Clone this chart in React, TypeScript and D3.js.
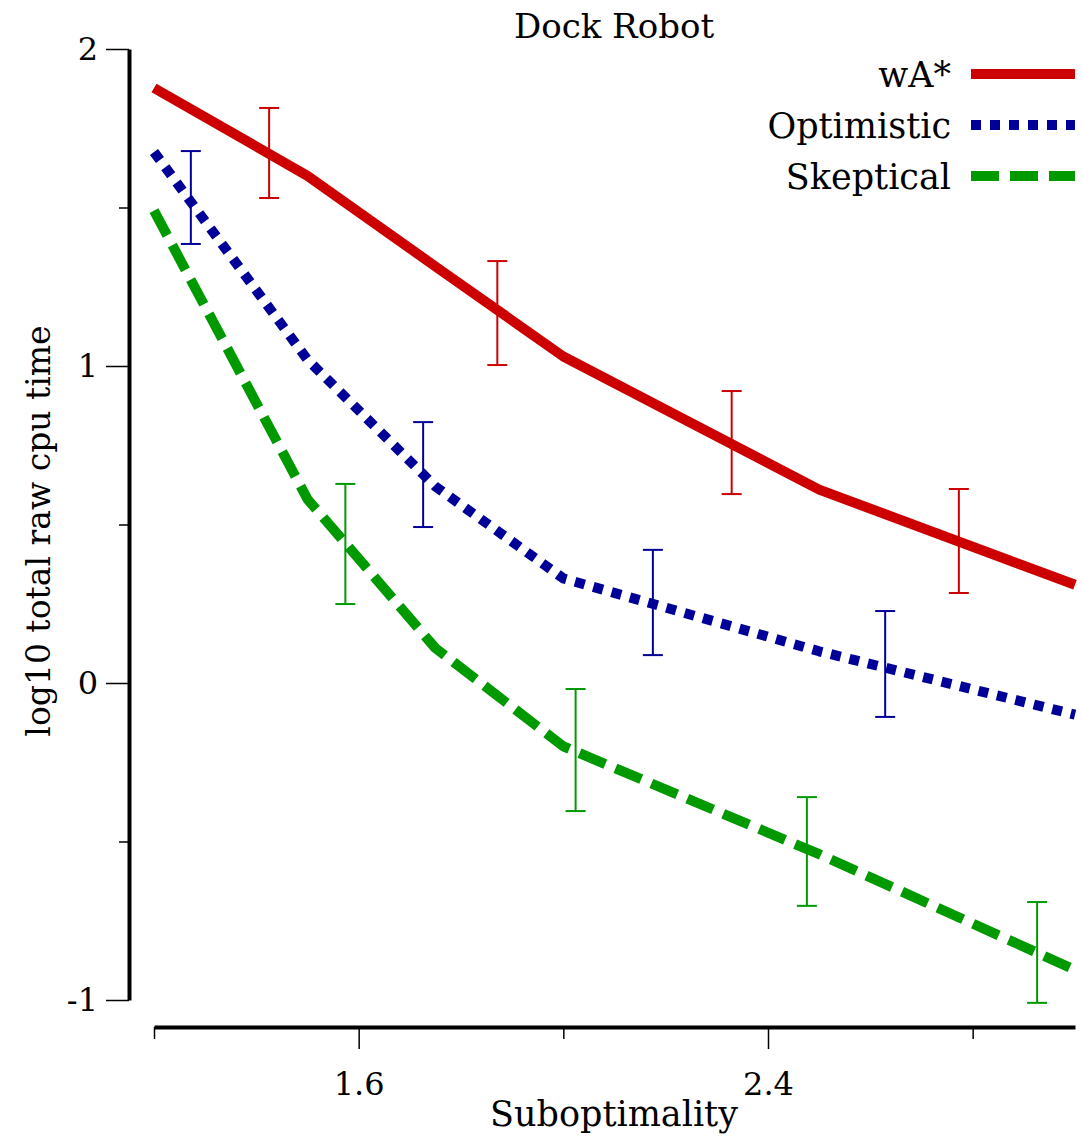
import React, { useRef, useEffect } from "react";
import * as d3 from "d3";

// series line vertices (suboptimality -> log10 cpu time)
const xValues = [1.2, 1.5, 1.75, 2.0, 2.5, 3.0];
const wAStar = [1.877, 1.6, 1.314, 1.03, 0.61, 0.31];
const optimistic = [1.675, 1.02, 0.62, 0.33, 0.1, -0.1];
const skeptical = [1.49, 0.58, 0.11, -0.2, -0.54, -0.905];

// error bars: x, low, high
const wAStarErrX = [1.425, 1.871, 2.329, 2.773];
const wAStarErrLo = [1.53, 1.003, 0.596, 0.284];
const wAStarErrHi = [1.814, 1.331, 0.921, 0.612];
const optErrX = [1.272, 1.726, 2.175, 2.629];
const optErrLo = [1.385, 0.492, 0.088, -0.107];
const optErrHi = [1.678, 0.823, 0.42, 0.227];
const skepErrX = [1.574, 2.024, 2.476, 2.926];
const skepErrLo = [0.249, -0.404, -0.703, -1.009];
const skepErrHi = [0.628, -0.019, -0.36, -0.691];

const yMajor = [-1, 0, 1, 2];
const yMinor = [-0.5, 0.5, 1.5];
const xMajor = [1.6, 2.4];
const xMinor = [1.2, 2.0, 2.8];

const series = [
  { name: "wA*", values: wAStar, errX: wAStarErrX, lo: wAStarErrLo, hi: wAStarErrHi, color: "#cc0000", dash: null },
  { name: "Optimistic", values: optimistic, errX: optErrX, lo: optErrLo, hi: optErrHi, color: "#000099", dash: "10,9" },
  { name: "Skeptical", values: skeptical, errX: skepErrX, lo: skepErrLo, hi: skepErrHi, color: "#009900", dash: "28,11" }
];

const W = 1082;
const H = 1139;
const font = "'DejaVu Serif', serif";

export default function App() {
  const svgRef = useRef<SVGSVGElement>(null);

  useEffect(() => {
    const svg = d3.select(svgRef.current);
    svg.selectAll("*").remove();

    const x = d3.scaleLinear().domain([1.2, 3.0]).range([154, 1075]);
    const y = d3.scaleLinear().domain([-1, 2]).range([1000, 49]);

    // y axis
    const yg = svg.append("g").attr("transform", "translate(129,0)");
    yg.call(d3.axisLeft(y).tickValues(yMajor).tickSize(23).tickSizeOuter(0).tickFormat(d => String(d)));
    yg.select(".domain").attr("stroke-width", 4);
    yg.selectAll(".tick line").attr("stroke-width", 1.5);
    yg.selectAll(".tick text")
      .attr("font-family", font)
      .attr("font-size", 32)
      .attr("x", -31);
    const ygm = svg.append("g").attr("transform", "translate(129,0)");
    ygm.call(d3.axisLeft(y).tickValues(yMinor).tickSize(10).tickFormat(() => ""));
    ygm.select(".domain").remove();
    ygm.selectAll(".tick line").attr("stroke-width", 1.5);

    // x axis
    const xg = svg.append("g").attr("transform", "translate(0,1027)");
    xg.call(d3.axisBottom(x).tickValues(xMajor).tickSize(22).tickSizeOuter(0).tickFormat(d3.format(".1f")));
    xg.select(".domain").attr("stroke-width", 4);
    xg.selectAll(".tick line").attr("stroke-width", 1.5);
    xg.selectAll(".tick text")
      .attr("font-family", font)
      .attr("font-size", 32)
      .attr("y", 45);
    const xgm = svg.append("g").attr("transform", "translate(0,1027)");
    xgm.call(d3.axisBottom(x).tickValues(xMinor).tickSize(12).tickFormat(() => ""));
    xgm.select(".domain").remove();
    xgm.selectAll(".tick line").attr("stroke-width", 1.5);

    // lines
    const myLine = d3
      .line<number>()
      .x((d, i) => x(xValues[i]))
      .y(d => y(d));

    series.forEach(s => {
      svg
        .append("path")
        .attr("d", myLine(s.values))
        .attr("fill", "none")
        .attr("stroke", s.color)
        .attr("stroke-width", 10)
        .attr("stroke-linejoin", "round")
        .attr("stroke-dasharray", s.dash);

      const eb = svg.append("g").attr("stroke", s.color).attr("stroke-width", 2);
      s.errX.forEach((ex, i) => {
        const cx = x(ex);
        eb.append("line").attr("x1", cx).attr("x2", cx).attr("y1", y(s.lo[i])).attr("y2", y(s.hi[i]));
        eb.append("line").attr("x1", cx - 10).attr("x2", cx + 10).attr("y1", y(s.lo[i])).attr("y2", y(s.lo[i]));
        eb.append("line").attr("x1", cx - 10).attr("x2", cx + 10).attr("y1", y(s.hi[i])).attr("y2", y(s.hi[i]));
      });
    });

    // legend
    series.forEach((s, i) => {
      const ly = 74 + i * 51;
      svg
        .append("line")
        .attr("x1", 971)
        .attr("x2", 1075)
        .attr("y1", ly)
        .attr("y2", ly)
        .attr("stroke", s.color)
        .attr("stroke-width", 10)
        .attr("stroke-dasharray", s.dash);
      svg
        .append("text")
        .attr("x", 951)
        .attr("y", ly + 13)
        .attr("text-anchor", "end")
        .attr("font-family", font)
        .attr("font-size", 35)
        .text(s.name);
    });

    // title and axis labels
    svg
      .append("text")
      .attr("x", 614)
      .attr("y", 38)
      .attr("text-anchor", "middle")
      .attr("font-family", font)
      .attr("font-size", 34)
      .text("Dock Robot");
    svg
      .append("text")
      .attr("x", 614)
      .attr("y", 1126)
      .attr("text-anchor", "middle")
      .attr("font-family", font)
      .attr("font-size", 35)
      .text("Suboptimality");
    svg
      .append("text")
      .attr("transform", "translate(50,531) rotate(-90)")
      .attr("text-anchor", "middle")
      .attr("font-family", font)
      .attr("font-size", 33)
      .text("log10 total raw cpu time");
  }, []);

  return (
    <svg
      ref={svgRef}
      width={W}
      height={H}
      style={{ position: "absolute", left: 0, top: 0, background: "#fff" }}
    />
  );
}
